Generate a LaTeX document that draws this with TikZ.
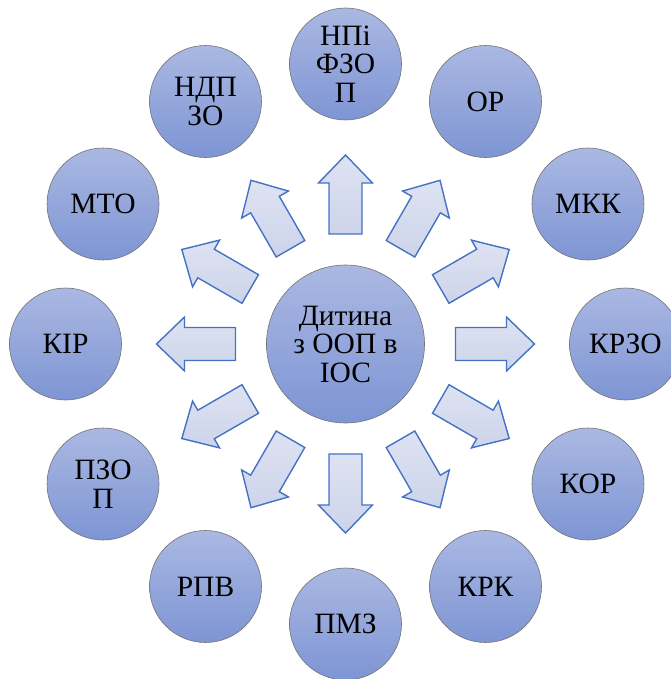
\documentclass[tikz,border=0pt]{standalone}
\usepackage{fontspec}
\setmainfont{Liberation Serif}
\definecolor{kolotop}{RGB}{170,184,226}
\definecolor{kolobot}{RGB}{126,149,212}
\definecolor{strilkaline}{RGB}{68,114,196}
\definecolor{strilkatop}{RGB}{222,227,242}
\definecolor{strilkabot}{RGB}{205,212,234}

\begin{document}
\begin{tikzpicture}[x=1pt,y=1pt,
  kolo/.style={circle, draw=black!55, line width=.6pt, top color=kolotop, bottom color=kolobot,
    minimum size=112pt, inner sep=0pt, align=center, font=\fontsize{29.5}{28.5}\selectfont},
  strilka/.style={draw=strilkaline, line width=1.4pt, top color=strilkatop, bottom color=strilkabot, line join=miter}]
\useasboundingbox (0,0) rectangle (670,-679);
\node[kolo, minimum size=158pt] (dytyna) at (345.5,-344) {Дитина\\з ООП в\\ІОС};
% arrows out of the centre
\foreach \a in {0,30,...,330}
  \draw[strilka, shift={(dytyna.center)}, rotate=\a]
    (110,-16.5) -- (161,-16.5) -- (161,-27) -- (189,0) -- (161,27) -- (161,16.5) -- (110,16.5) -- cycle;
\foreach \a/\nazva/\tekst in {90/npfzop/{НПі\\ФЗО\\П}, 60/or/{ОР}, 30/mkk/{МКК}, 0/krzo/{КРЗО},
    -30/kor/{КОР}, -60/krk/{КРК}, -90/pmz/{ПМЗ}, -120/rpv/{РПВ}, -150/pzop/{ПЗО\\П},
    180/kir/{КІР}, 150/mto/{МТО}, 120/ndpzo/{НДП\\ЗО}}
  \node[kolo] (\nazva) at ([shift={(\a:280)}]dytyna.center) {\tekst};
\end{tikzpicture}
\end{document}
